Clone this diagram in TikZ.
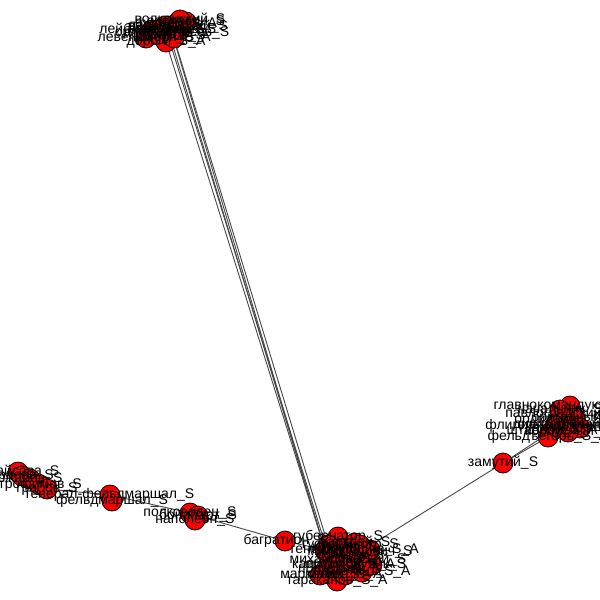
\documentclass[tikz,border=0pt]{standalone}
\usepackage{fontspec}
\setmainfont{Liberation Sans}
\usetikzlibrary{backgrounds}

\begin{document}
\begin{tikzpicture}[x=1pt,y=-1pt,
  vert/.style={circle,draw=black,fill=red,line width=0.8pt,minimum size=20pt,inner sep=0pt},
  lbl/.style={inner sep=0pt,font=\fontsize{14}{14}\selectfont},
  link/.style={draw=black!72,line width=0.9pt}]
\useasboundingbox (0,0) rectangle (600,600);
% vertices: name/x/y/label
\def\vertlist{t1/152/30/лейб-гвардии\_S, t2/165/26/давыдов\_S, t3/176/24/фигнер\_S\_A,
  t4/186/22/сеславин\_S, t5/180/20/волконский\_S, t6/170/36/дорохов\_S,
  t7/166/42/дороги\_S\_A, t8/180/30/кудашев\_S, t9/172/33/орлов-денисов\_S,
  t10/146/38/левенштерн\_S, t11/178/27/вадбольский\_S, t12/168/30/фон-толь\_S,
  t13/158/34/ланской\_S, t14/174/38/дибич\_S\_A,
  b1/285/541/багратион\_S, b2/338/537/губернатор\_S, b3/337/581/тараканов\_S\_A,
  b4/345/548/кутузов\_S, b5/360/552/милорадович\_S, b6/330/560/михайлов\_S,
  b7/320/575/маркелов\_S, b8/350/565/ермолов\_S\_A, b9/368/560/раевский\_S,
  b10/340/570/полковник\_S, b11/362/572/адъютант\_S\_A, b12/325/550/генерал\_S,
  b13/355/543/барклай\_S, b14/370/550/командир\_S\_A, b15/350/556/офицер\_S,
  b16/335/565/капитан\_S\_A, b17/372/565/поручик\_S, b18/345/575/майор\_S\_A,
  b19/360/545/ротмистр\_S, b20/328/545/гусар\_S,
  z/503/463/замутий\_S,
  r1/570/406/главнокомандующий\_S, r2/562/414/павлоградский\_S, r3/558/420/ординарец\_S,
  r4/565/425/дивизионный\_S, r5/552/431/штабной\_S\_A, r6/548/437/фельдъегерь\_S\_A,
  r7/575/418/бригадный\_S, r8/580/428/командующий\_S, r9/568/432/корпусный\_S,
  r10/560/410/начальник\_S, r11/555/426/флигель-адъютант\_S,
  m1/190/513/полководец\_S, m2/198/516/бонапарт\_S, m3/195/520/наполеон\_S,
  f1/110/495/генерал-фельдмаршал\_S, f2/112/501/фельдмаршал\_S,
  l1/18/472/кутайсова\_S, l2/22/476/орлова\_S, l3/30/479/ожаров\_S,
  l4/40/485/трофимов\_S, l5/47/489/грабов\_S}
\foreach \n/\x/\y/\t in \vertlist
  \node[vert] (\n) at (\x,\y) {};
\begin{scope}[on background layer]
\path[link] (t6) edge (b12) (t2) edge (b6) (t7) edge (b12) (t9) edge (b12)
  (t14) edge (b20);
\path[link] (b5) edge (z) (z) edge (r6) (z) edge (r5);
\path[link] (b1) edge (m2) (b1) edge (b12) (m1) edge (f1) (f1) edge (l5);
\end{scope}
\foreach \n/\x/\y/\t in \vertlist
  \node[lbl] at (\n) {\t};
\end{tikzpicture}
\end{document}
